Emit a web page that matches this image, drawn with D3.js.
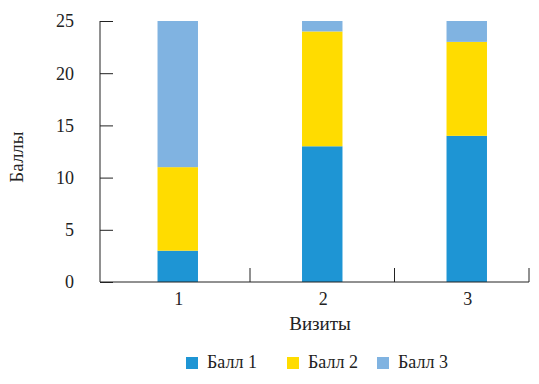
<!DOCTYPE html>
<html>
<head>
<meta charset="utf-8">
<script src="https://cdn.jsdelivr.net/npm/d3@7"></script>
<style>
  body { margin: 0; background: #fff; }
</style>
</head>
<body>
<div id="content"></div>
<script>
// данные
var visits = ["1", "2", "3"];
var series = ["Балл 1", "Балл 2", "Балл 3"];
var ball1 = [3, 13, 14];
var ball2 = [8, 11, 9];
var ball3 = [14, 1, 2];
var yTicks = [0, 5, 10, 15, 20, 25];
var colors = ["#1e95d4", "#ffdc00", "#80b3e1"];

var width = 539, height = 384;
var axisLeft = 100, axisRight = 529, axisTop = 21, axisBottom = 282;
var serif = "'Liberation Serif', 'DejaVu Serif', 'Times New Roman', serif";

var rows = visits.map(function(v, i) {
  return { visit: v, "Балл 1": ball1[i], "Балл 2": ball2[i], "Балл 3": ball3[i] };
});
var stacked = d3.stack().keys(series)(rows);

var svg = d3.select("#content").append("svg")
  .attr("width", width)
  .attr("height", height)
  .attr("font-family", serif)
  .style("font-family", serif);

var x = d3.scaleBand()
  .domain(visits)
  .range([105.5, 539])
  .paddingInner(0.72)
  .paddingOuter(0.36);

var y = d3.scaleLinear()
  .domain([0, 25])
  .range([axisBottom, axisTop]);

var color = d3.scaleOrdinal().domain(series).range(colors);

// столбики
svg.selectAll(".layer")
  .data(stacked)
  .enter().append("g")
    .attr("fill", function(d) { return color(d.key); })
  .selectAll("rect")
  .data(function(d) { return d; })
  .enter().append("rect")
    .attr("x", function(d) { return x(d.data.visit); })
    .attr("width", x.bandwidth())
    .attr("y", function(d) { return y(d[1]); })
    .attr("height", function(d) { return y(d[0]) - y(d[1]); });

// ось Y
var yAxis = svg.append("g")
  .attr("transform", "translate(" + axisLeft + ",0)")
  .call(d3.axisRight(y).tickValues(yTicks).tickSize(13).tickFormat(""));
yAxis.select(".domain").remove();
yAxis.selectAll(".tick line").attr("stroke", "#222");
svg.append("line")
  .attr("x1", axisLeft).attr("x2", axisLeft)
  .attr("y1", axisTop).attr("y2", axisBottom)
  .attr("stroke", "#222");
svg.selectAll(".ylab")
  .data(yTicks)
  .enter().append("text")
    .attr("x", 74)
    .attr("y", function(d) { return y(d); })
    .attr("dy", "0.35em")
    .attr("text-anchor", "end")
    .attr("fill", "#222")
    .style("font-size", "18px")
    .text(function(d) { return d; });

// ось X
svg.append("line")
  .attr("x1", axisLeft).attr("x2", axisRight)
  .attr("y1", axisBottom).attr("y2", axisBottom)
  .attr("stroke", "#222");
var step = x.step();
svg.selectAll(".xtick")
  .data(visits)
  .enter().append("line")
    .attr("x1", function(d) { return Math.min(x(d) + x.bandwidth() / 2 + step / 2, axisRight); })
    .attr("x2", function(d) { return Math.min(x(d) + x.bandwidth() / 2 + step / 2, axisRight); })
    .attr("y1", axisBottom).attr("y2", axisBottom - 14)
    .attr("stroke", "#222");
svg.selectAll(".xlab")
  .data(visits)
  .enter().append("text")
    .attr("x", function(d) { return x(d) + x.bandwidth() / 2 + 1; })
    .attr("y", 305)
    .attr("text-anchor", "middle")
    .attr("fill", "#222")
    .style("font-size", "18px")
    .text(function(d) { return d; });

svg.append("text")
  .attr("x", 320).attr("y", 330)
  .attr("text-anchor", "middle")
  .attr("fill", "#222")
  .style("font-size", "19px")
  .text("Визиты");

svg.append("text")
  .attr("transform", "translate(23,157) rotate(-90)")
  .attr("text-anchor", "middle")
  .attr("fill", "#222")
  .style("font-size", "19px")
  .text("Баллы");

// легенда
var legendX = [186, 287, 377];
var leg = svg.selectAll(".leg")
  .data(series)
  .enter().append("g")
    .attr("transform", function(d, i) { return "translate(" + legendX[i] + ",357)"; });
leg.append("rect")
  .attr("width", 12).attr("height", 12)
  .attr("fill", function(d) { return color(d); });
leg.append("text")
  .attr("x", 21).attr("y", 11)
  .attr("fill", "#222")
  .style("font-size", "18px")
  .text(function(d) { return d; });
</script>
</body>
</html>
